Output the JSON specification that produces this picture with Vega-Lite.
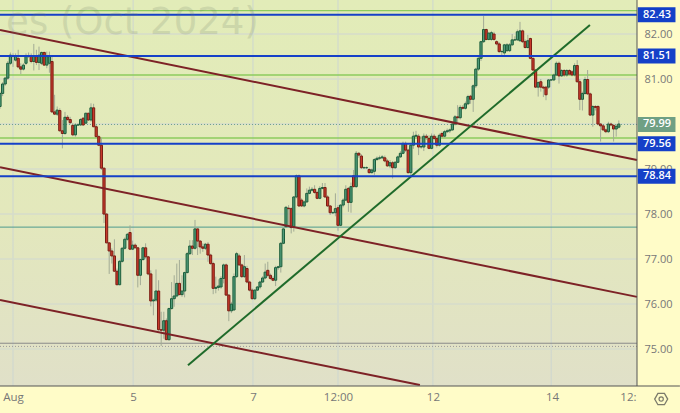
{
"$schema":"https://vega.github.io/schema/vega-lite/v6.json",
"width":637,"height":386,
"autosize":{"type":"none"},
"padding":{"left":0,"top":0,"right":43,"bottom":27},
"background":"#FFFCC8",
"view":{"stroke":null},
"config":{"axis":{"grid":false},"style":{"guide-label":{"font":"Open Sans"}}},
"datasets":{
"bars":[
{"t":0,"o":80.39,"h":80.72,"l":80.34,"c":80.68},{"t":1,"o":80.68,"h":80.93,"l":80.62,"c":80.89},{"t":2,"o":80.89,"h":81.05,"l":80.85,"c":81.02},{"t":3,"o":81.02,"h":81.4,"l":80.98,"c":81.35},{"t":4,"o":81.35,"h":81.59,"l":81.31,"c":81.53},{"t":5,"o":81.51,"h":81.57,"l":81.27,"c":81.5},{"t":6,"o":81.42,"h":81.57,"l":81.39,"c":81.5},{"t":7,"o":81.46,"h":81.65,"l":81.24,"c":81.27},{"t":8,"o":81.27,"h":81.35,"l":81.11,"c":81.22},{"t":9,"o":81.22,"h":81.35,"l":81.19,"c":81.31},
{"t":10,"o":81.35,"h":81.57,"l":81.31,"c":81.5},{"t":11,"o":81.5,"h":81.59,"l":81.47,"c":81.51},{"t":12,"o":81.51,"h":81.57,"l":81.35,"c":81.39},{"t":13,"o":81.39,"h":81.78,"l":81.19,"c":81.51},{"t":14,"o":81.5,"h":81.65,"l":81.31,"c":81.37},{"t":15,"o":81.37,"h":81.72,"l":81.2,"c":81.53},{"t":16,"o":81.35,"h":81.61,"l":81.31,"c":81.59},{"t":17,"o":81.59,"h":81.61,"l":81.29,"c":81.31},{"t":18,"o":81.31,"h":81.61,"l":81.24,"c":81.5},{"t":19,"o":81.35,"h":81.61,"l":81.14,"c":81.5},
{"t":20,"o":81.39,"h":81.5,"l":80.25,"c":80.27},{"t":21,"o":80.27,"h":80.65,"l":80.2,"c":80.22},{"t":22,"o":80.22,"h":80.39,"l":80.18,"c":80.31},{"t":23,"o":80.3,"h":80.35,"l":79.83,"c":79.85},{"t":24,"o":79.85,"h":80.09,"l":79.46,"c":79.79},{"t":25,"o":79.79,"h":80.27,"l":79.76,"c":80.15},{"t":26,"o":80.15,"h":80.2,"l":80.07,"c":80.1},{"t":27,"o":80.1,"h":80.16,"l":80.0,"c":80.03},{"t":28,"o":79.97,"h":80.02,"l":79.73,"c":79.76},{"t":29,"o":79.76,"h":80.02,"l":79.72,"c":79.98},
{"t":30,"o":79.98,"h":80.02,"l":79.96,"c":79.98},{"t":31,"o":79.98,"h":80.13,"l":79.96,"c":80.1},{"t":32,"o":80.13,"h":80.15,"l":79.96,"c":79.98},{"t":33,"o":80.02,"h":80.25,"l":80.0,"c":80.24},{"t":34,"o":80.24,"h":80.25,"l":80.07,"c":80.09},{"t":35,"o":80.09,"h":80.46,"l":80.05,"c":80.36},{"t":36,"o":80.36,"h":80.45,"l":79.93,"c":79.94},{"t":37,"o":79.94,"h":79.98,"l":79.7,"c":79.72},{"t":38,"o":79.72,"h":79.76,"l":79.51,"c":79.53},{"t":39,"o":79.53,"h":79.7,"l":78.98,"c":79.02},
{"t":40,"o":79.02,"h":79.03,"l":77.8,"c":78.0},{"t":41,"o":78.0,"h":78.02,"l":77.35,"c":77.36},{"t":42,"o":77.36,"h":77.38,"l":76.67,"c":77.18},{"t":43,"o":77.18,"h":77.24,"l":76.9,"c":77.07},{"t":44,"o":77.07,"h":77.44,"l":76.72,"c":76.73},{"t":45,"o":76.73,"h":76.79,"l":76.42,"c":76.43},{"t":46,"o":76.43,"h":76.98,"l":76.42,"c":76.95},{"t":47,"o":76.95,"h":77.27,"l":76.92,"c":77.24},{"t":48,"o":77.24,"h":77.48,"l":77.21,"c":77.44},{"t":49,"o":77.44,"h":77.58,"l":77.41,"c":77.55},
{"t":50,"o":77.59,"h":77.75,"l":77.2,"c":77.22},{"t":51,"o":77.22,"h":77.41,"l":77.2,"c":77.31},{"t":52,"o":77.31,"h":77.35,"l":77.24,"c":77.25},{"t":53,"o":77.25,"h":77.27,"l":76.37,"c":76.64},{"t":54,"o":76.64,"h":77.01,"l":76.42,"c":76.99},{"t":55,"o":76.99,"h":77.27,"l":76.96,"c":77.25},{"t":56,"o":77.25,"h":77.35,"l":77.01,"c":77.05},{"t":57,"o":77.05,"h":77.07,"l":76.64,"c":76.67},{"t":58,"o":76.67,"h":76.75,"l":75.95,"c":76.07},{"t":59,"o":76.07,"h":76.12,"l":75.75,"c":76.09},
{"t":60,"o":76.09,"h":76.77,"l":76.05,"c":76.29},{"t":61,"o":76.29,"h":76.53,"l":75.41,"c":75.43},{"t":62,"o":75.43,"h":75.83,"l":75.07,"c":75.42},{"t":63,"o":75.42,"h":75.83,"l":75.23,"c":75.63},{"t":64,"o":75.63,"h":75.68,"l":75.2,"c":75.21},{"t":65,"o":75.21,"h":75.92,"l":75.18,"c":75.9},{"t":66,"o":75.9,"h":76.49,"l":75.88,"c":76.12},{"t":67,"o":76.12,"h":76.64,"l":75.94,"c":76.18},{"t":68,"o":76.18,"h":76.9,"l":76.15,"c":76.46},{"t":69,"o":76.46,"h":76.98,"l":76.2,"c":76.21},
{"t":70,"o":76.21,"h":76.64,"l":76.16,"c":76.29},{"t":71,"o":76.29,"h":76.72,"l":76.15,"c":76.7},{"t":72,"o":76.7,"h":77.16,"l":76.68,"c":77.12},{"t":73,"o":77.12,"h":77.42,"l":77.09,"c":77.29},{"t":74,"o":77.29,"h":77.42,"l":77.09,"c":77.24},{"t":75,"o":77.24,"h":77.87,"l":77.21,"c":77.67},{"t":76,"o":77.67,"h":77.68,"l":77.09,"c":77.4},{"t":77,"o":77.4,"h":77.42,"l":77.12,"c":77.27},{"t":78,"o":77.27,"h":77.35,"l":77.16,"c":77.24},{"t":79,"o":77.24,"h":77.36,"l":77.2,"c":77.33},
{"t":80,"o":77.33,"h":77.38,"l":76.94,"c":77.09},{"t":81,"o":77.09,"h":77.12,"l":76.87,"c":76.9},{"t":82,"o":76.9,"h":76.94,"l":76.22,"c":76.35},{"t":83,"o":76.35,"h":76.61,"l":76.24,"c":76.37},{"t":84,"o":76.37,"h":76.55,"l":76.3,"c":76.4},{"t":85,"o":76.38,"h":76.62,"l":76.34,"c":76.57},{"t":86,"o":76.57,"h":76.9,"l":76.46,"c":76.87},{"t":87,"o":76.87,"h":76.9,"l":76.18,"c":76.2},{"t":88,"o":76.2,"h":76.22,"l":75.62,"c":75.85},{"t":89,"o":75.85,"h":76.05,"l":75.8,"c":76.0},
{"t":90,"o":75.87,"h":76.68,"l":75.85,"c":76.61},{"t":91,"o":76.61,"h":77.16,"l":76.58,"c":77.12},{"t":92,"o":77.07,"h":77.12,"l":76.85,"c":76.87},{"t":93,"o":76.87,"h":76.9,"l":76.58,"c":76.61},{"t":94,"o":76.61,"h":77.09,"l":76.58,"c":76.83},{"t":95,"o":76.79,"h":76.85,"l":76.46,"c":76.49},{"t":96,"o":76.49,"h":76.52,"l":76.28,"c":76.31},{"t":97,"o":76.31,"h":76.35,"l":76.1,"c":76.12},{"t":98,"o":76.12,"h":76.33,"l":76.09,"c":76.31},{"t":99,"o":76.31,"h":76.4,"l":76.29,"c":76.38},
{"t":100,"o":76.38,"h":76.52,"l":76.33,"c":76.49},{"t":101,"o":76.49,"h":76.62,"l":76.47,"c":76.58},{"t":102,"o":76.58,"h":76.9,"l":76.55,"c":76.71},{"t":103,"o":76.75,"h":76.94,"l":76.6,"c":76.64},{"t":104,"o":76.64,"h":76.68,"l":76.54,"c":76.57},{"t":105,"o":76.57,"h":76.62,"l":76.51,"c":76.53},{"t":106,"o":76.53,"h":76.85,"l":76.4,"c":76.81},{"t":107,"o":76.81,"h":76.85,"l":76.76,"c":76.83},{"t":108,"o":76.83,"h":77.38,"l":76.7,"c":77.35},{"t":109,"o":77.35,"h":77.7,"l":77.33,"c":77.67},
{"t":110,"o":77.72,"h":78.18,"l":77.7,"c":78.15},{"t":111,"o":78.13,"h":78.2,"l":77.72,"c":78.12},{"t":112,"o":78.12,"h":78.15,"l":77.57,"c":77.7},{"t":113,"o":77.72,"h":78.4,"l":77.61,"c":78.38},{"t":114,"o":78.38,"h":78.88,"l":78.35,"c":78.85},{"t":115,"o":78.85,"h":78.88,"l":78.16,"c":78.18},{"t":116,"o":78.31,"h":78.35,"l":78.16,"c":78.18},{"t":117,"o":78.18,"h":78.3,"l":78.15,"c":78.27},{"t":118,"o":78.27,"h":78.57,"l":78.25,"c":78.46},{"t":119,"o":78.46,"h":78.61,"l":78.44,"c":78.53},
{"t":120,"o":78.53,"h":78.6,"l":78.5,"c":78.55},{"t":121,"o":78.55,"h":78.64,"l":78.45,"c":78.48},{"t":122,"o":78.48,"h":78.52,"l":78.33,"c":78.35},{"t":123,"o":78.35,"h":78.62,"l":78.33,"c":78.57},{"t":124,"o":78.57,"h":78.69,"l":78.55,"c":78.59},{"t":125,"o":78.59,"h":78.69,"l":78.36,"c":78.38},{"t":126,"o":78.38,"h":78.42,"l":78.16,"c":78.18},{"t":127,"o":78.18,"h":78.2,"l":77.98,"c":78.03},{"t":128,"o":78.03,"h":78.06,"l":78.0,"c":78.03},{"t":129,"o":78.03,"h":78.46,"l":77.95,"c":78.12},
{"t":130,"o":78.14,"h":78.2,"l":77.63,"c":77.75},{"t":131,"o":77.75,"h":78.22,"l":77.73,"c":78.2},{"t":132,"o":78.2,"h":78.35,"l":78.15,"c":78.31},{"t":133,"o":78.31,"h":78.64,"l":78.29,"c":78.55},{"t":134,"o":78.57,"h":78.6,"l":78.05,"c":78.26},{"t":135,"o":78.26,"h":78.7,"l":78.03,"c":78.61},{"t":136,"o":78.85,"h":78.98,"l":78.59,"c":78.61},{"t":137,"o":78.61,"h":79.4,"l":78.58,"c":79.35},{"t":138,"o":79.35,"h":79.38,"l":79.25,"c":79.31},{"t":139,"o":79.29,"h":79.33,"l":79.0,"c":79.03},
{"t":140,"o":79.03,"h":79.06,"l":79.0,"c":79.03},{"t":141,"o":79.03,"h":79.06,"l":79.0,"c":79.03},{"t":142,"o":78.99,"h":79.03,"l":78.9,"c":78.92},{"t":143,"o":78.92,"h":79.01,"l":78.9,"c":78.98},{"t":144,"o":78.95,"h":79.24,"l":78.87,"c":79.21},{"t":145,"o":79.21,"h":79.28,"l":79.19,"c":79.24},{"t":146,"o":79.24,"h":79.3,"l":79.2,"c":79.25},{"t":147,"o":79.25,"h":79.31,"l":79.22,"c":79.27},{"t":148,"o":79.25,"h":79.3,"l":79.15,"c":79.18},{"t":149,"o":79.18,"h":79.22,"l":79.05,"c":79.07},
{"t":150,"o":79.07,"h":79.2,"l":79.02,"c":79.14},{"t":151,"o":79.14,"h":79.18,"l":78.79,"c":79.03},{"t":152,"o":79.03,"h":79.18,"l":79.0,"c":79.15},{"t":153,"o":79.15,"h":79.3,"l":79.13,"c":79.27},{"t":154,"o":79.27,"h":79.4,"l":79.25,"c":79.35},{"t":155,"o":79.35,"h":79.61,"l":79.33,"c":79.57},{"t":156,"o":79.57,"h":79.61,"l":79.38,"c":79.42},{"t":157,"o":79.42,"h":79.45,"l":78.9,"c":78.92},{"t":158,"o":78.92,"h":79.55,"l":78.83,"c":79.53},{"t":159,"o":79.53,"h":79.83,"l":79.45,"c":79.73},
{"t":160,"o":79.73,"h":79.85,"l":79.7,"c":79.75},{"t":161,"o":79.73,"h":79.78,"l":79.31,"c":79.49},{"t":162,"o":79.49,"h":79.73,"l":79.45,"c":79.5},{"t":163,"o":79.49,"h":79.79,"l":79.4,"c":79.73},{"t":164,"o":79.73,"h":79.78,"l":79.65,"c":79.7},{"t":165,"o":79.68,"h":79.75,"l":79.44,"c":79.46},{"t":166,"o":79.46,"h":79.79,"l":79.44,"c":79.73},{"t":167,"o":79.73,"h":79.78,"l":79.64,"c":79.68},{"t":168,"o":79.68,"h":79.73,"l":79.48,"c":79.53},{"t":169,"o":79.53,"h":79.79,"l":79.5,"c":79.75},
{"t":170,"o":79.79,"h":79.83,"l":79.7,"c":79.73},{"t":171,"o":79.73,"h":79.87,"l":79.7,"c":79.83},{"t":172,"o":79.83,"h":79.9,"l":79.8,"c":79.85},{"t":173,"o":79.85,"h":79.9,"l":79.8,"c":79.87},{"t":174,"o":79.87,"h":80.05,"l":79.85,"c":80.0},{"t":175,"o":80.0,"h":80.2,"l":79.97,"c":80.16},{"t":176,"o":80.16,"h":80.42,"l":80.02,"c":80.14},{"t":177,"o":80.14,"h":80.42,"l":80.1,"c":80.37},{"t":178,"o":80.37,"h":80.42,"l":80.32,"c":80.35},{"t":179,"o":80.35,"h":80.5,"l":80.32,"c":80.45},
{"t":180,"o":80.45,"h":80.65,"l":80.42,"c":80.61},{"t":181,"o":80.62,"h":80.65,"l":80.45,"c":80.55},{"t":182,"o":80.55,"h":80.88,"l":80.27,"c":80.85},{"t":183,"o":80.85,"h":81.25,"l":80.8,"c":81.22},{"t":184,"o":81.22,"h":81.5,"l":81.18,"c":81.46},{"t":185,"o":81.46,"h":81.85,"l":81.4,"c":81.83},{"t":186,"o":81.83,"h":82.4,"l":81.8,"c":82.1},{"t":187,"o":82.1,"h":82.12,"l":81.86,"c":81.88},{"t":188,"o":81.88,"h":82.05,"l":81.86,"c":82.02},{"t":189,"o":81.88,"h":82.07,"l":81.85,"c":82.03},
{"t":190,"o":82.0,"h":82.05,"l":81.85,"c":81.88},{"t":191,"o":81.83,"h":81.86,"l":81.75,"c":81.78},{"t":192,"o":81.78,"h":81.82,"l":81.58,"c":81.61},{"t":193,"o":81.61,"h":81.65,"l":81.52,"c":81.61},{"t":194,"o":81.58,"h":81.78,"l":81.52,"c":81.76},{"t":195,"o":81.63,"h":81.8,"l":81.6,"c":81.76},{"t":196,"o":81.63,"h":81.8,"l":81.6,"c":81.76},{"t":197,"o":81.76,"h":82.0,"l":81.74,"c":81.87},{"t":198,"o":81.87,"h":81.95,"l":81.85,"c":81.87},{"t":199,"o":81.87,"h":82.1,"l":81.85,"c":82.05},
{"t":200,"o":81.85,"h":82.27,"l":81.83,"c":82.07},{"t":201,"o":82.07,"h":82.1,"l":81.8,"c":81.83},{"t":202,"o":81.83,"h":81.88,"l":81.68,"c":81.7},{"t":203,"o":81.7,"h":81.98,"l":81.68,"c":81.85},{"t":204,"o":81.9,"h":81.92,"l":81.44,"c":81.46},{"t":205,"o":81.46,"h":81.48,"l":81.18,"c":81.2},{"t":206,"o":81.2,"h":81.22,"l":80.8,"c":80.82},{"t":207,"o":80.82,"h":80.95,"l":80.61,"c":80.92},{"t":208,"o":80.94,"h":81.0,"l":80.72,"c":80.82},{"t":209,"o":80.82,"h":80.85,"l":80.6,"c":80.8},
{"t":210,"o":80.82,"h":80.85,"l":80.53,"c":80.65},{"t":211,"o":80.82,"h":81.0,"l":80.78,"c":80.98},{"t":212,"o":80.98,"h":81.0,"l":80.96,"c":80.98},{"t":213,"o":80.98,"h":81.12,"l":80.96,"c":81.09},{"t":214,"o":81.09,"h":81.39,"l":81.07,"c":81.35},{"t":215,"o":81.35,"h":81.39,"l":80.9,"c":81.07},{"t":216,"o":81.07,"h":81.22,"l":81.05,"c":81.19},{"t":217,"o":81.19,"h":81.22,"l":81.05,"c":81.09},{"t":218,"o":81.09,"h":81.22,"l":81.05,"c":81.19},{"t":219,"o":81.19,"h":81.22,"l":81.08,"c":81.11},
{"t":220,"o":81.16,"h":81.2,"l":81.06,"c":81.09},{"t":221,"o":81.09,"h":81.35,"l":81.06,"c":81.3},{"t":222,"o":81.3,"h":81.42,"l":80.92,"c":80.94},{"t":223,"o":80.94,"h":81.0,"l":80.31,"c":80.55},{"t":224,"o":80.55,"h":80.72,"l":80.3,"c":80.68},{"t":225,"o":80.68,"h":81.05,"l":80.65,"c":80.99},{"t":226,"o":80.99,"h":81.2,"l":80.65,"c":80.67},{"t":227,"o":80.67,"h":80.7,"l":80.18,"c":80.2},{"t":228,"o":80.2,"h":80.42,"l":79.94,"c":80.39},{"t":229,"o":80.39,"h":80.42,"l":80.3,"c":80.37},
{"t":230,"o":80.39,"h":80.42,"l":79.97,"c":80.0},{"t":231,"o":80.0,"h":80.02,"l":79.61,"c":79.96},{"t":232,"o":79.96,"h":79.98,"l":79.85,"c":79.87},{"t":233,"o":79.87,"h":79.9,"l":79.8,"c":79.83},{"t":234,"o":79.83,"h":80.05,"l":79.8,"c":80.0},{"t":235,"o":80.0,"h":80.03,"l":79.95,"c":79.98},{"t":236,"o":79.97,"h":80.0,"l":79.61,"c":79.89},{"t":237,"o":79.89,"h":80.0,"l":79.72,"c":79.95},{"t":238,"o":79.93,"h":80.08,"l":79.9,"c":80.0}
],
"trends":[
{"name":"upper","t":0,"p":82.09,"kind":"channel"},{"name":"upper","t":245,"p":79.2,"kind":"channel"},
{"name":"middle","t":0,"p":79.04,"kind":"channel"},{"name":"middle","t":245,"p":76.16,"kind":"channel"},
{"name":"lower","t":0,"p":76.09,"kind":"channel"},{"name":"lower","t":161.5,"p":74.2,"kind":"channel"},
{"name":"support","t":72.3,"p":74.64,"kind":"support"},{"name":"support","t":226.9,"p":82.2,"kind":"support"}
],
"levels":[{"price":82.43},{"price":81.51},{"price":79.56},{"price":78.84}],
"greens":[{"price":82.52},{"price":81.09},{"price":79.69}],
"grid":[{"price":82},{"price":81},{"price":80},{"price":79},{"price":78},{"price":77},{"price":76},{"price":75}],
"vgrid":[{"t":5},{"t":51.2},{"t":97.3},{"t":130},{"t":166.5},{"t":212}]
},
"layer":[
{"data":{"values":[{"a":0,"b":245,"lo":74.18,"hi":82.756}]},
"mark":{"type":"rect","fill":{"gradient":"linear","x1":0,"y1":0,"x2":0,"y2":1,"stops":[{"offset":0,"color":"#E2ECB8"},{"offset":0.55,"color":"#E3E8BC"},{"offset":1,"color":"#E0E0C8"}]}},
"encoding":{
"x":{"field":"a","type":"quantitative","title":null,"scale":{"domain":[0,245],"nice":false,"zero":false,"padding":0},
"axis":{"orient":"bottom","title":null,"domain":false,"ticks":false,"labelColor":"#777","labelFontSize":11.5,"labelPadding":5,"labelFont":"Open Sans","values":[5,51.2,97.3,130,166.5,212.3,241.5],"labelExpr":"datum.value==5?'Aug':datum.value==51.2?'5':datum.value==97.3?'7':datum.value==130?'12:00':datum.value==166.5?'12':datum.value==212.3?'14':'12:'","labelOverlap":false,"labelBound":false,"labelFlush":false}},
"x2":{"field":"b"},
"y":{"field":"lo","type":"quantitative","title":null,"scale":{"domain":[74.18,82.756],"nice":false,"zero":false,"padding":0},
"axis":{"orient":"right","title":null,"domain":false,"ticks":false,"labelColor":"#777","labelFontSize":11,"labelPadding":7,"labelFont":"Open Sans","values":[75,76,77,78,79,81,82],"format":".2f","labelOverlap":false,"labelBound":false,"labelFlush":false}},
"y2":{"field":"hi"}}},
{"data":{"name":"vgrid"},"mark":{"type":"rule","stroke":"#CDD6D0","strokeWidth":1},"encoding":{"x":{"field":"t","type":"quantitative"}}},
{"data":{"name":"grid"},"mark":{"type":"rule","stroke":"#D6DCCB","strokeWidth":1.5},"encoding":{"y":{"field":"price","type":"quantitative"}}},
{"data":{"name":"greens"},"mark":{"type":"rule","stroke":"#8CCB5E","strokeWidth":1.3},"encoding":{"y":{"field":"price","type":"quantitative"}}},
{"data":{"values":[{"price":77.71}]},"mark":{"type":"rule","stroke":"#4E9A8E","strokeWidth":1},"encoding":{"y":{"field":"price","type":"quantitative"}}},
{"data":{"values":[{"price":75.13}]},"mark":{"type":"rule","stroke":"#8A8A8A","strokeWidth":1},"encoding":{"y":{"field":"price","type":"quantitative"}}},
{"data":{"values":[{"price":75.06}]},"mark":{"type":"rule","stroke":"#9A9A9A","strokeWidth":1,"strokeDash":[1,2]},"encoding":{"y":{"field":"price","type":"quantitative"}}},
{"data":{"values":[{"price":79.99}]},"mark":{"type":"rule","stroke":"#6FA090","strokeWidth":1,"strokeDash":[1,2]},"encoding":{"y":{"field":"price","type":"quantitative"}}},
{"data":{"name":"bars"},"mark":{"type":"rule","stroke":"#A3AB95","strokeWidth":1},"encoding":{"x":{"field":"t","type":"quantitative"},"y":{"field":"l","type":"quantitative"},"y2":{"field":"h"}}},
{"data":{"name":"bars"},"mark":{"type":"bar","size":2.2,"strokeWidth":1},"encoding":{"x":{"field":"t","type":"quantitative"},"y":{"field":"o","type":"quantitative"},"y2":{"field":"c"},
"fill":{"condition":{"test":"datum.c>=datum.o","value":"#4F9A78"},"value":"#C8392B"},
"stroke":{"condition":{"test":"datum.c>=datum.o","value":"#1D5E3C"},"value":"#7A1E14"}}},
{"data":{"name":"trends"},"transform":[{"filter":"datum.kind=='channel'"}],"mark":{"type":"line","stroke":"#7D2226","strokeWidth":2},"encoding":{"x":{"field":"t","type":"quantitative"},"y":{"field":"p","type":"quantitative"},"detail":{"field":"name"}}},
{"data":{"name":"trends"},"transform":[{"filter":"datum.kind=='support'"}],"mark":{"type":"line","stroke":"#1F6B2A","strokeWidth":2},"encoding":{"x":{"field":"t","type":"quantitative"},"y":{"field":"p","type":"quantitative"},"detail":{"field":"name"}}},
{"data":{"name":"levels"},"mark":{"type":"rule","stroke":"#1540C8","strokeWidth":2},"encoding":{"y":{"field":"price","type":"quantitative"}}},
{"data":{"values":[{"w":"es (Oct 2024)"}]},"mark":{"type":"text","font":"DejaVu Sans","fontSize":37,"align":"right","baseline":"middle","fill":"#6E7A6A","opacity":0.18},
"encoding":{"x":{"datum":99.5,"type":"quantitative"},"y":{"datum":82.24,"type":"quantitative"},"text":{"field":"w"}}},
{"data":{"values":[{"a":245,"b":245}]},"mark":{"type":"rule","stroke":"#555555","strokeWidth":1},"encoding":{"x":{"field":"a","type":"quantitative"}}},
{"data":{"values":[{"p":74.18}]},"mark":{"type":"rule","stroke":"#555555","strokeWidth":1},"encoding":{"y":{"field":"p","type":"quantitative"},"x":{"datum":0,"type":"quantitative"},"x2":{"datum":261.5}}},
{"data":{"name":"levels"},"mark":{"type":"rule","stroke":"#1540C8","strokeWidth":15},"encoding":{"x":{"datum":245.3,"type":"quantitative"},"x2":{"datum":259.8},"y":{"field":"price","type":"quantitative"}}},
{"data":{"values":[{"price":79.99}]},"mark":{"type":"rule","stroke":"#6FA084","strokeWidth":15},"encoding":{"x":{"datum":245.3,"type":"quantitative"},"x2":{"datum":259.8},"y":{"field":"price","type":"quantitative"}}},
{"data":{"values":[{"price":82.43},{"price":81.51},{"price":79.99},{"price":79.56},{"price":78.84}]},"mark":{"type":"text","font":"Open Sans","fontSize":11,"fontWeight":600,"fill":"#FFFFFF","align":"center","baseline":"middle"},"encoding":{"x":{"datum":252.7,"type":"quantitative"},"y":{"field":"price","type":"quantitative"},"text":{"field":"price","type":"quantitative","format":".2f"}}},
{"data":{"values":[{"s":"gear"}]},"mark":{"type":"point","shape":"M-1,0L-0.5,-0.87L0.5,-0.87L1,0L0.5,0.87L-0.5,0.87Z","size":170,"stroke":"#444444","strokeWidth":1.3,"filled":false},"encoding":{"x":{"datum":254.3,"type":"quantitative"},"y":{"datum":73.89,"type":"quantitative"}}},
{"data":{"values":[{"s":"gear"}]},"mark":{"type":"point","shape":"circle","size":18,"stroke":"#444444","strokeWidth":1.2,"filled":false},"encoding":{"x":{"datum":254.3,"type":"quantitative"},"y":{"datum":73.89,"type":"quantitative"}}}
]
}
